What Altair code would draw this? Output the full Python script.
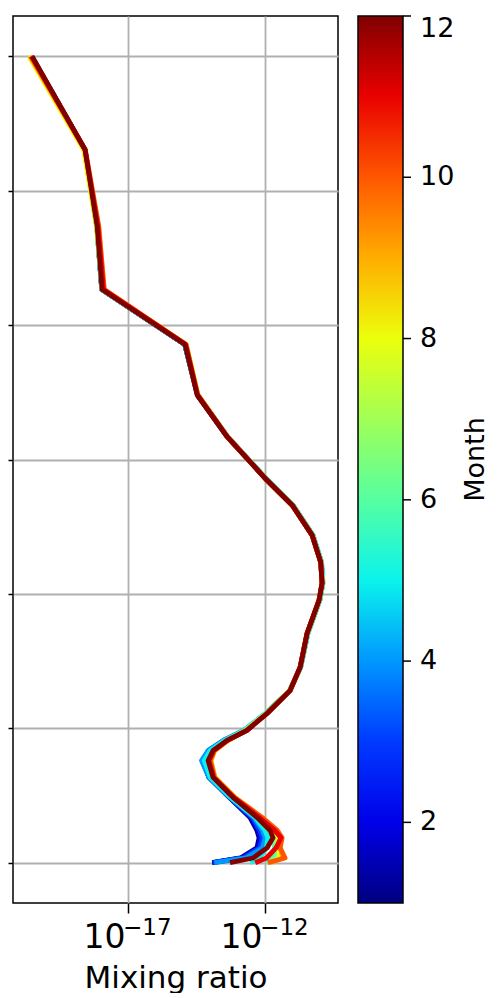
import altair as alt
import numpy as np
import pandas as pd

# Altitude levels (km) of the profiles (y axis, tick labels hidden in the original)
ALTITUDE_KM = [0, 0.7, 2.2, 3.7, 4.8, 6.7, 9.7, 12.7, 15.2, 16.7, 18.2, 19.7, 22.2, 25.6,
               29.1, 34.1, 39.1, 41.6, 44.7, 48.7, 53.2, 56.9, 63.4, 69.6, 77.1, 85.3,
               94.7, 106.1, 120]

# log10(mixing ratio) for each month, one value per altitude level
LOG_MR_M01 = [-13.93, -12.90, -12.30, -12.22, -12.30, -12.55, -13.30, -14.05, -14.25, -14.05, -13.50, -12.75, -11.95, -11.10, -10.72, -10.47, -10.03, -9.92, -9.97, -10.28, -11.01, -11.93, -13.39, -14.47, -14.93, -17.96, -18.14, -18.58, -20.52]
LOG_MR_M02 = [-13.93, -12.85, -12.25, -12.18, -12.25, -12.50, -13.30, -14.05, -14.27, -14.05, -13.50, -12.75, -11.96, -11.10, -10.72, -10.46, -10.02, -9.91, -9.96, -10.27, -11.00, -11.92, -13.38, -14.46, -14.93, -17.96, -18.14, -18.58, -20.52]
LOG_MR_M03 = [-13.90, -12.80, -12.20, -12.10, -12.20, -12.45, -13.28, -14.05, -14.30, -14.07, -13.52, -12.77, -11.97, -11.10, -10.71, -10.45, -10.01, -9.90, -9.95, -10.26, -10.99, -11.91, -13.37, -14.46, -14.93, -17.96, -18.14, -18.58, -20.53]
LOG_MR_M04 = [-13.85, -12.70, -12.10, -12.00, -12.10, -12.40, -13.28, -14.05, -14.32, -14.07, -13.52, -12.78, -11.98, -11.10, -10.70, -10.44, -10.00, -9.89, -9.94, -10.25, -10.98, -11.90, -13.37, -14.47, -14.93, -17.96, -18.14, -18.58, -20.54]
LOG_MR_M05 = [-12.55, -12.20, -11.95, -11.90, -12.00, -12.35, -13.25, -14.00, -14.22, -14.00, -13.48, -12.78, -11.99, -11.11, -10.70, -10.44, -10.00, -9.89, -9.94, -10.25, -10.98, -11.90, -13.37, -14.47, -14.92, -17.96, -18.14, -18.59, -20.56]
LOG_MR_M06 = [-11.95, -11.70, -11.65, -11.70, -11.85, -12.25, -13.15, -13.88, -14.02, -13.88, -13.40, -12.74, -11.98, -11.11, -10.71, -10.45, -10.01, -9.90, -9.95, -10.26, -10.99, -11.91, -13.38, -14.47, -14.91, -17.95, -18.14, -18.60, -20.58]
LOG_MR_M07 = [-11.85, -11.50, -11.55, -11.60, -11.75, -12.20, -13.12, -13.85, -14.00, -13.85, -13.37, -12.71, -11.96, -11.10, -10.72, -10.46, -10.02, -9.91, -9.96, -10.27, -11.00, -11.92, -13.38, -14.46, -14.90, -17.95, -18.15, -18.61, -20.60]
LOG_MR_M08 = [-11.80, -11.45, -11.50, -11.50, -11.70, -12.15, -13.10, -13.83, -13.98, -13.83, -13.35, -12.69, -11.94, -11.09, -10.72, -10.47, -10.03, -9.92, -9.97, -10.28, -11.01, -11.93, -13.38, -14.45, -14.88, -17.93, -18.15, -18.62, -20.62]
LOG_MR_M09 = [-11.80, -11.35, -11.45, -11.42, -11.60, -12.10, -13.10, -13.83, -13.98, -13.84, -13.35, -12.68, -11.93, -11.09, -10.72, -10.47, -10.03, -9.92, -9.97, -10.28, -11.01, -11.93, -13.38, -14.45, -14.88, -17.88, -18.08, -18.58, -20.58]
LOG_MR_M10 = [-11.90, -11.27, -11.45, -11.38, -11.55, -12.10, -13.12, -13.85, -14.00, -13.85, -13.36, -12.68, -11.93, -11.09, -10.72, -10.47, -10.03, -9.92, -9.97, -10.28, -11.01, -11.93, -13.38, -14.46, -14.89, -17.87, -18.07, -18.56, -20.55]
LOG_MR_M11 = [-12.36, -11.95, -11.60, -11.42, -11.65, -12.20, -13.15, -13.88, -14.05, -13.88, -13.38, -12.66, -11.93, -11.09, -10.72, -10.47, -10.03, -9.92, -9.97, -10.28, -11.01, -11.93, -13.39, -14.47, -14.90, -17.90, -18.10, -18.57, -20.52]
LOG_MR_M12 = [-13.28, -12.44, -11.93, -11.71, -11.82, -12.29, -13.17, -13.90, -14.08, -13.90, -13.39, -12.66, -11.93, -11.09, -10.72, -10.47, -10.03, -9.92, -9.97, -10.28, -11.01, -11.93, -13.39, -14.48, -14.92, -17.95, -18.13, -18.57, -20.50]

MONTHS = list(range(1, 13))
PROFILES = [LOG_MR_M01, LOG_MR_M02, LOG_MR_M03, LOG_MR_M04, LOG_MR_M05, LOG_MR_M06,
            LOG_MR_M07, LOG_MR_M08, LOG_MR_M09, LOG_MR_M10, LOG_MR_M11, LOG_MR_M12]

Y_TICKS = [0, 20, 40, 60, 80, 100, 120]
X_TICK_EXP = [-17, -12]
COLORBAR_TICKS = [2, 4, 6, 8, 10, 12]
COLORBAR_TITLE = ["Month"]

rows = []
for m, prof in zip(MONTHS, PROFILES):
    for a, v in zip(ALTITUDE_KM, prof):
        rows.append({"month": m, "alt": a, "ratio": 10.0 ** v})
df = pd.DataFrame(rows)

sup_df = pd.DataFrame({"ratio": [10.0 ** e for e in X_TICK_EXP],
                       "sup": ["\u2212" + str(abs(e)) for e in X_TICK_EXP]})
cb_df = pd.DataFrame({"m": COLORBAR_TICKS})
title_df = pd.DataFrame({"t": COLORBAR_TITLE})

# matplotlib "jet" colormap, sampled for a piecewise colour scale
def _jet(t):
    r = np.interp(t, [0, 0.35, 0.66, 0.89, 1], [0, 0, 1, 1, 0.5])
    g = np.interp(t, [0, 0.125, 0.375, 0.64, 0.91, 1], [0, 0, 1, 1, 0, 0])
    b = np.interp(t, [0, 0.11, 0.34, 0.65, 1], [0.5, 1, 1, 0, 0])
    return "#%02x%02x%02x" % (int(round(r * 255)), int(round(g * 255)), int(round(b * 255)))

ts = np.linspace(0, 1, 45)
stop_domain = [float(1 + 11 * t) for t in ts]
stop_range = [_jet(t) for t in ts]

FONT = "DejaVu Sans"
x_scale = alt.Scale(type="log", domain=[10 ** -21.2, 10 ** -9.34], nice=False)
x_axis = alt.Axis(values=[10.0 ** e for e in X_TICK_EXP], labelExpr="'10'",
                  labelAlign="right", labelBaseline="alphabetic", labelOffset=-3,
                  labelPadding=34, labelFontSize=33, tickSize=10,
                  title="Mixing ratio", titleFontSize=31, titleY=84,
                  titleBaseline="alphabetic")
x_enc = alt.X("ratio:Q", scale=x_scale, axis=x_axis)

lines = alt.Chart(df).mark_line(strokeWidth=4.8, strokeJoin="round").encode(
    x=x_enc,
    y=alt.Y("alt:Q", scale=alt.Scale(domain=[-6, 126], nice=False, zero=False),
            axis=alt.Axis(values=Y_TICKS, labels=False, title=None, tickSize=5)),
    color=alt.Color("month:Q",
                    scale=alt.Scale(type="linear", domain=stop_domain, range=stop_range),
                    legend=alt.Legend(type="gradient", orient="none", legendX=345, legendY=0,
                                      direction="vertical", gradientLength=887,
                                      gradientThickness=45, gradientStrokeColor="black",
                                      gradientStrokeWidth=1.5, values=COLORBAR_TICKS,
                                      format="d",
                                      labelFontSize=27, labelFont=FONT, labelColor="black",
                                      labelOffset=17, labelOverlap=False,
                                      labelBaseline="middle", title=None)),
    order=alt.Order("alt:Q"),
)

sup = alt.Chart(sup_df).mark_text(align="left", baseline="alphabetic", fontSize=23,
                                  dx=-5, font=FONT, color="black").encode(
    x=x_enc,
    y=alt.value(919),
    text="sup:N",
)

cb_ticks = alt.Chart(cb_df).mark_rule(color="black", strokeWidth=1.5).encode(
    x=alt.value(390), x2=alt.value(398),
    y=alt.Y("m:Q", scale=alt.Scale(domain=[1, 12], nice=False, zero=False), axis=None),
)

cb_title = alt.Chart(title_df).mark_text(angle=270, align="center", baseline="top",
                                         fontSize=27, font=FONT, color="black").encode(
    x=alt.value(450), y=alt.value(443.5), text="t:N",
)

chart = alt.layer(lines, sup, cb_ticks, cb_title).resolve_scale(y="independent").properties(
    width=325, height=887,
    autosize=alt.AutoSizeParams(type="none"),
    padding={"left": 5, "top": 8, "right": 152, "bottom": 90},
).configure_view(stroke="black", strokeWidth=1.5).configure_axis(
    grid=True, gridColor="#b0b0b0", gridWidth=1.8, domain=False,
    tickColor="black", tickWidth=1.5, labelColor="black", titleColor="black",
    labelFont=FONT, titleFont=FONT, titleFontWeight="normal",
)

chart.save("out.html", embed_options={"renderer": "svg", "actions": False})
